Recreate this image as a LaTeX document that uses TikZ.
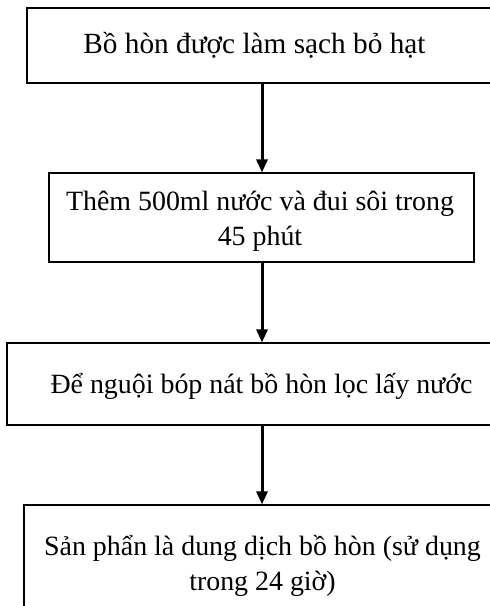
\documentclass[tikz,border=0pt]{standalone}
\usepackage{fontspec}
\setmainfont{Liberation Serif}
\usetikzlibrary{arrows.meta}
\tikzset{
  box/.style={draw=black, line width=1.1pt, inner sep=0pt, fill=none},
  lbl/.style={font=\fontsize{27.9}{35}\selectfont, inner sep=0pt, align=center, anchor=base},
  arr/.style={line width=3pt, -{Triangle[length=13pt,width=11pt]}}
}
\begin{document}
\begin{tikzpicture}[x=1pt,y=-1pt]
\useasboundingbox (0,0) rectangle (490,606);
\clip (0,0) rectangle (490,606);
\fill[white] (0,0) rectangle (490,606);
\node[box, minimum width=473pt, minimum height=75pt] (b1) at (263.5,45.5) {};
\node[box, minimum width=425pt, minimum height=89pt] (b2) at (261.5,217.5) {};
\node[box, minimum width=493pt, minimum height=82pt] (b3) at (253.5,384) {};
\node[box, minimum width=476pt, minimum height=115pt] (b4) at (262,562.5) {};
\node[lbl, font=\fontsize{29.3}{35}\selectfont] (t1) at (254.5,53) {Bồ hòn được làm sạch bỏ hạt};
\node[lbl] (t2) at (260,245) {Thêm 500ml nước và đui sôi trong\\45 phút};
\node[lbl] (t3) at (261.5,393) {Để nguội bóp nát bồ hòn lọc lấy nước};
\node[lbl] (t4) at (262.5,590) {Sản phẩn là dung dịch bồ hòn (sử dụng\\trong 24 giờ)};
\coordinate (ax) at (262,0);
\draw[arr] (b1.south -| ax) -- (b2.north -| ax);
\draw[arr] (b2.south -| ax) -- (b3.north -| ax);
\draw[arr] (b3.south -| ax) -- (b4.north -| ax);
\end{tikzpicture}
\end{document}
